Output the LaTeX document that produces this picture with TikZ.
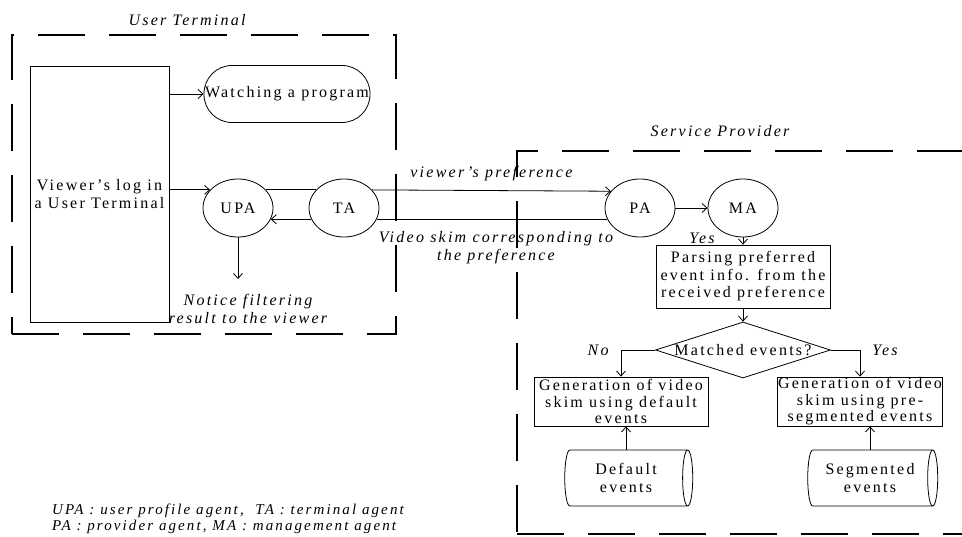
\documentclass[tikz,border=0pt]{standalone}
\usepackage{fontspec}
\setmainfont{Liberation Serif}[LetterSpace=14]
\usetikzlibrary{shapes.geometric,arrows.meta}
\begin{document}
\begin{tikzpicture}[x=1pt,y=-1pt,
  every node/.style={font=\fontsize{16}{17.5}\selectfont, align=center, inner sep=0},
  zone/.style={draw, line width=2.6pt, dash pattern=on 47pt off 24pt},
  agent/.style={ellipse, draw, line width=0.8pt, minimum width=70, minimum height=58},
  box/.style={rectangle, draw, line width=0.8pt},
  store/.style={cylinder, draw, line width=0.8pt, aspect=0.35, minimum width=56},
  tag/.style={font=\fontsize{16}{18}\selectfont\itshape},
  link/.style={-{Straight Barb[length=5pt,width=9pt]}, line width=0.8pt}]
\useasboundingbox (0,0) rectangle (962,536);
\clip (0,0) rectangle (962,536);
\node[zone, minimum width=384, minimum height=299] (terminal) at (204,184.5){};
\node[tag] (terminaltag) at (187,20){User Terminal};
\node[zone, minimum width=458, minimum height=383] (provider) at (746,342.5){};
\node[tag] (providertag) at (720,131){Service Provider};
\node[box, minimum width=139, minimum height=256, font=\fontsize{16}{18}\selectfont] (log) at (99.5,194){Viewer's log in\\a User Terminal};
\node[box, rounded corners=28pt, minimum width=166, minimum height=57] (watch) at (287,94){Watching a program};
\node[agent] (upa) at (238,208){UPA};
\node[agent] (ta) at (344,208){TA};
\node[agent] (pa) at (640,208){PA};
\node[agent] (ma) at (743,208){MA};
\coordinate (notice) at (238,279);
\node[tag] (noticetag) at (248,309){Notice filtering\\result to the viewer};
\draw[link] (log.east |- watch.west) -- (watch.west);
\draw[link] (log.east |- upa.147) -- (upa.147);
\draw[line width=0.8pt] (upa.33) -- (ta.147);
\draw[link] (ta.33) -- (pa.150) node[tag, midway, above=9pt]{viewer's preference};
\draw[line width=0.8pt] (pa.-161) -- (ta.-19);
\draw[link] (ta.-161) -- (upa.-19);
\node[tag] (skimtag) at (496,247.5){Video skim corresponding to\\the preference};
\draw[link] (upa.south) -- (notice);
\draw[link] (pa) -- (ma);
\node[tag] (yes1) at (702,238){Yes};
\node[box, minimum width=174, minimum height=63] (parse) at (743,276.5){Parsing preferred\\event info. from the\\received preference};
\node[diamond, draw, line width=0.8pt, aspect=3.1, minimum width=175, minimum height=56] (match) at (743,350){Matched events?};
\node[box, minimum width=174, minimum height=49, font=\fontsize{16}{16.5}\selectfont] (gen1) at (621,401.5){Generation of video\\skim using default\\events};
\node[box, minimum width=165, minimum height=49, font=\fontsize{16}{16.5}\selectfont] (gen2) at (860,401.5){Generation of video\\skim using pre-\\segmented events};
\node[store, minimum height=128] (cyl1) at (626,478){Default\\events};
\node[store, minimum height=130] (cyl2) at (870,478){Segmented\\events};
\draw[link] (ma) -- (parse);
\draw[link] (parse) -- (match);
\draw[link] (match.west) -| (gen1.north) node[tag, pos=0.5, left=12pt]{No};
\draw[link] (match.east) -| (gen2.north) node[tag, pos=0.5, right=12pt]{Yes};
\draw[link] (cyl1.north) -- (cyl1.north |- gen1.south);
\draw[link] (cyl2.north) -- (cyl2.north |- gen2.south);
\node[tag, anchor=west, align=left, font=\fontsize{15}{16}\selectfont\itshape] (legend) at (52,519){UPA : user profile agent,\ \ TA : terminal agent\\PA : provider agent, MA : management agent};
\end{tikzpicture}
\end{document}
